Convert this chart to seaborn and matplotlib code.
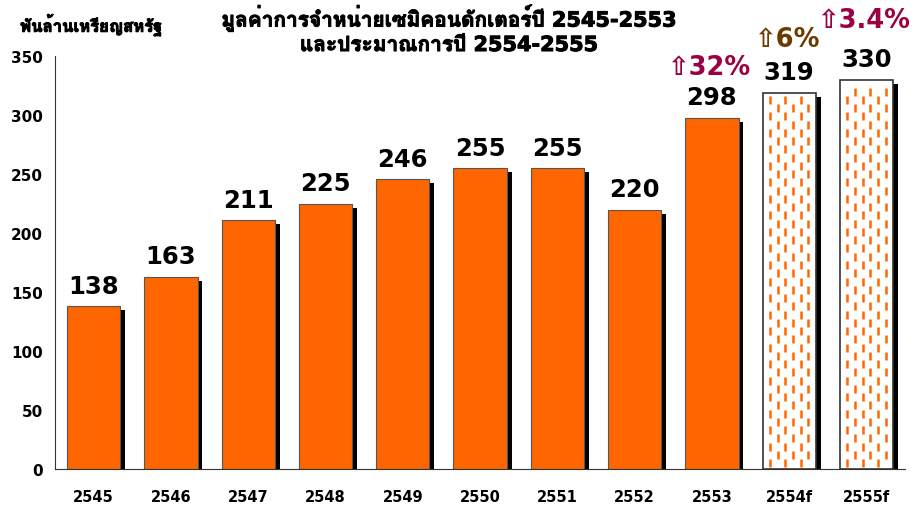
import matplotlib
import matplotlib.pyplot as plt
import matplotlib.patheffects as pe
import numpy as np
import pandas as pd
import seaborn as sns
from matplotlib import font_manager
from matplotlib.ft2font import FT2Font

matplotlib.use("Agg")

YEARS = ["2545", "2546", "2547", "2548", "2549", "2550", "2551", "2552", "2553", "2554f", "2555f"]
VALUES = [138, 163, 211, 225, 246, 255, 255, 220, 298, 319, 330]
FORECAST = [False] * 9 + [True, True]
GROWTH_LABELS = {"2553": "32%", "2554f": "6%", "2555f": "3.4%"}
GROWTH_COLORS = {"2553": "#9b0042", "2554f": "#6b3a00", "2555f": "#9b0042"}
GROWTH_OFFSETS = {"2553": 27, "2554f": 29, "2555f": 34}

TITLE = "มูลค่าการจำหน่ายเซมิคอนดักเตอร์ปี 2545-2553\nและประมาณการปี 2554-2555"
Y_LABEL = "พันล้านเหรียญสหรัฐ"
ORANGE = "#ff6600"


def find_thai_font():
    # pick the first installed font that actually has Thai glyphs
    for f in font_manager.fontManager.ttflist:
        try:
            if 0x0E01 in FT2Font(f.fname).get_charmap():
                return f.name
        except Exception:
            continue
    return None


sns.set_style("white")
thai = find_thai_font()
families = ["DejaVu Sans"] + ([thai] if thai else [])
plt.rcParams["font.family"] = families
plt.rcParams["font.weight"] = "bold"
plt.rcParams["text.color"] = "black"
plt.rcParams["xtick.color"] = "black"
plt.rcParams["ytick.color"] = "black"

df = pd.DataFrame({"year": YEARS, "value": VALUES})

fig = plt.figure(figsize=(9.17, 5.06), dpi=100)
ax = fig.add_axes([0.060, 0.071, 0.927, 0.816])

sns.barplot(data=df, x="year", y="value", hue="year", palette=[ORANGE] * len(YEARS),
            saturation=1, legend=False, width=0.69, edgecolor="#555555", linewidth=0.8, ax=ax)

shadow = [pe.SimplePatchShadow(offset=(3.5, -3), shadow_rgbFace="black", alpha=1.0), pe.Normal()]
for patch, is_fc in zip(ax.patches, FORECAST):
    patch.set_path_effects(shadow)
    if is_fc:
        patch.set_facecolor("white")
        patch.set_edgecolor("#333333")
        patch.set_linewidth(1.2)
        # dashed-stripe fill, derived from the bar's own extent
        x0, w, h = patch.get_x(), patch.get_width(), patch.get_height()
        cols = np.linspace(x0 + w * 0.14, x0 + w * 0.86, 6)
        for i, cx in enumerate(cols):
            start = 7 if i % 2 else 0
            ys = np.arange(start + 5, h - 3, 14)
            ax.scatter(np.full_like(ys, cx, dtype=float), ys, marker="|", s=40,
                       color=ORANGE, linewidths=1.8, zorder=3)

for i, (yr, v) in enumerate(zip(YEARS, VALUES)):
    ax.annotate(str(v), (i, v), xytext=(0, 6), textcoords="offset points",
                ha="center", va="bottom", fontsize=17.5, fontweight="bold", color="black")
    if yr in GROWTH_LABELS:
        ax.annotate("⇧" + GROWTH_LABELS[yr], (i, v), xytext=(-2, GROWTH_OFFSETS[yr]),
                    textcoords="offset points", ha="center", va="bottom", fontsize=18.5,
                    fontweight="bold", color=GROWTH_COLORS[yr], annotation_clip=False)

ax.set_ylim(0, 350)
ax.set_xlim(-0.5, len(YEARS) - 0.5)
ax.set_yticks(range(0, 351, 50))
ax.set_xlabel("")
ax.set_ylabel("")
ax.set_xticks(range(len(YEARS)))
ax.set_xticklabels(YEARS, fontsize=10.5, fontweight="bold")
ax.set_xticks(np.arange(-0.5, len(YEARS), 1.0), minor=True)
ax.tick_params(axis="x", which="major", length=0, pad=14)
ax.tick_params(axis="x", which="minor", length=5, width=1, color="#333333", direction="out")
ax.tick_params(axis="y", length=5, width=1, color="#333333", direction="out", labelsize=11)
for lbl in ax.get_yticklabels():
    lbl.set_fontweight("bold")

sns.despine(ax=ax, top=True, right=True)
ax.spines["left"].set_color("#333333")
ax.spines["bottom"].set_color("#333333")

# the Thai font has no bold face, so thicken it with a thin stroke
fake_bold = [pe.withStroke(linewidth=0.7, foreground="black")]
fig.text(0.49, 0.99, TITLE, ha="center", va="top", fontsize=15, fontweight="bold",
         linespacing=1.2, path_effects=fake_bold)
fig.text(0.022, 0.948, Y_LABEL, ha="left", va="center", fontsize=12, fontweight="bold",
         path_effects=fake_bold)

fig.savefig("out.png", dpi=100, facecolor="white")
